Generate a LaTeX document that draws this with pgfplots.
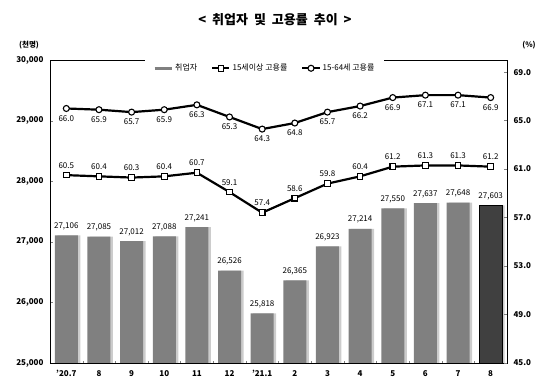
\documentclass[border=0pt]{standalone}
\usepackage{pgfplots}
\pgfplotsset{compat=1.18}
\usepackage{fontspec}
\setmainfont{Noto Sans CJK KR}
\definecolor{barg}{HTML}{808080}
\definecolor{bard}{HTML}{404040}
\definecolor{shad}{HTML}{CCCCCC}
\begin{document}
\begin{tikzpicture}[x=1pt,y=1pt]
\path[use as bounding box] (0,0) rectangle (550,386);
\node[font=\fontsize{13}{15}\selectfont\bfseries] at (275,366) {<\ \ 취업자\ \ 및\ \ 고용률\ \ 추이\ \ >};
\node[font=\fontsize{7.5}{9}\selectfont\bfseries] at (29,341) {(천명)};
\node[font=\fontsize{7.5}{9}\selectfont\bfseries] at (529,341) {(\%)};
\begin{axis}[
  at={(50pt,23pt)}, anchor=south west, scale only axis,
  width=457pt, height=303pt,
  xmin=-0.5, xmax=13.5, ymin=25000, ymax=30000,
  ytick={25000,26000,...,30000},
  scaled y ticks=false,
  yticklabel={\pgfmathprintnumber[fixed,precision=0,1000 sep={,}]{\tick}},
  xtick=data, xticklabels={’20.7,8,9,10,11,12,’21.1,2,3,4,5,6,7,8},
  xtick pos=bottom, ytick pos=left,
  major x tick style={draw=none},
  minor x tick num=1, minor tick length=2pt,
  tick align=inside, major tick length=3pt,
  /pgf/number format/assume math mode=true,
  /pgf/number format/1000 sep={,},
  ticklabel style={font=\fontsize{8}{9}\selectfont\bfseries},
  yticklabel style={xshift=-3pt},
  xticklabel style={yshift=-4pt},
  axis line style={black, line width=0.8pt},
  clip=true,
]
\addplot[ybar, bar width=23pt, bar shift=2.5pt, fill=shad, draw=none, forget plot]
 coordinates {(0,27106)(1,27085)(2,27012)(3,27088)(4,27241)(5,26526)(6,25818)(7,26365)(8,26923)(9,27214)(10,27550)(11,27637)(12,27648)(13,27603)};
\addplot[ybar, bar width=23pt, bar shift=0pt, fill=barg, draw=none,
  nodes near coords, every node near coord/.append style={font=\fontsize{8}{9}\selectfont, yshift=2pt, black}]
 coordinates {(0,27106)(1,27085)(2,27012)(3,27088)(4,27241)(5,26526)(6,25818)(7,26365)(8,26923)(9,27214)(10,27550)(11,27637)(12,27648)};
\addplot[ybar, bar width=23pt, bar shift=0pt, fill=bard, draw=black, line width=0.8pt,
  nodes near coords, every node near coord/.append style={font=\fontsize{8}{9}\selectfont, yshift=2pt, black}]
 coordinates {(13,27603)};
\end{axis}
\begin{axis}[
  at={(50pt,23pt)}, anchor=south west, scale only axis,
  width=457pt, height=303pt,
  xmin=-0.5, xmax=13.5, ymin=45, ymax=70,
  ytick={45,49,...,69},
  axis y line*=right, axis x line=none,
  tick align=inside, major tick length=3pt,
  /pgf/number format/assume math mode=true,
  yticklabel={\pgfmathprintnumber[fixed,fixed zerofill,precision=1]{\tick}},
  ticklabel style={font=\fontsize{8}{9}\selectfont\bfseries},
  yticklabel style={xshift=3pt},
  axis line style={black, line width=0.8pt},
  legend columns=3,
  legend style={at={(0.47,1.0)}, anchor=north, yshift=2pt, draw=none, fill=white,
    font=\fontsize{8}{9}\selectfont, inner xsep=8pt, inner ysep=4pt,
    /tikz/every even column/.append style={column sep=12pt}},
  legend cell align=left,
]
\addlegendimage{barg, line width=3pt}
\addlegendentry{취업자}
\addplot[black, line width=2.2pt, mark=square*, mark size=2.8pt,
  mark options={fill=white, draw=black, line width=1.1pt},
  nodes near coords={\pgfmathprintnumber[fixed,fixed zerofill,precision=1]{\pgfplotspointmeta}},
  every node near coord/.append style={font=\fontsize{8}{9}\selectfont, anchor=south, yshift=3pt}]
 coordinates {(0,60.5)(1,60.4)(2,60.3)(3,60.4)(4,60.7)(5,59.1)(6,57.4)(7,58.6)(8,59.8)(9,60.4)(10,61.2)(11,61.3)(12,61.3)(13,61.2)};
\addlegendentry{15세이상 고용률}
\addplot[black, line width=2.2pt, mark=*, mark size=3pt,
  mark options={fill=white, draw=black, line width=1.1pt},
  nodes near coords={\pgfmathprintnumber[fixed,fixed zerofill,precision=1]{\pgfplotspointmeta}},
  every node near coord/.append style={font=\fontsize{8}{9}\selectfont, anchor=north, yshift=-3pt}]
 coordinates {(0,66.0)(1,65.9)(2,65.7)(3,65.9)(4,66.3)(5,65.3)(6,64.3)(7,64.8)(8,65.7)(9,66.2)(10,66.9)(11,67.1)(12,67.1)(13,66.9)};
\addlegendentry{15-64세 고용률}
\end{axis}
\end{tikzpicture}
\end{document}
